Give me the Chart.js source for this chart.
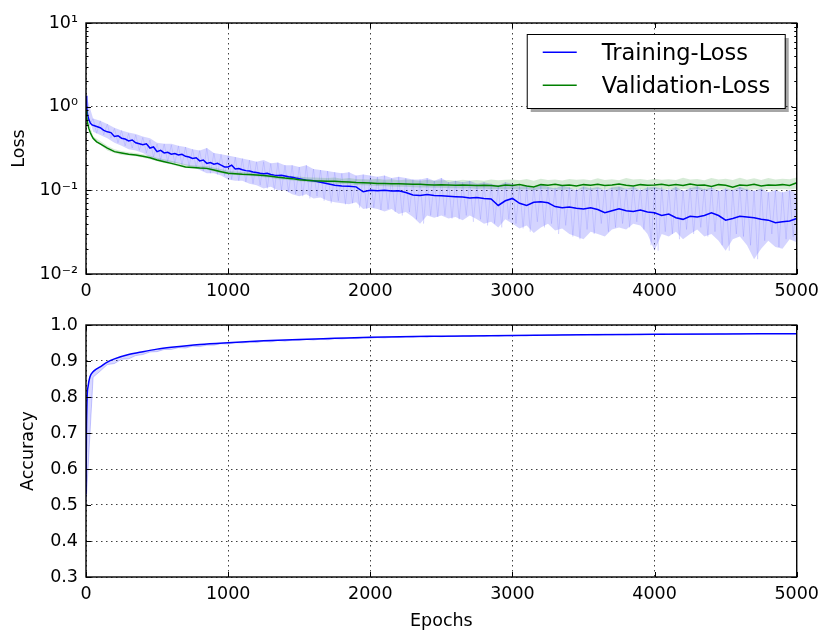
<!DOCTYPE html>
<html><head><meta charset="utf-8">
<script src="https://cdn.jsdelivr.net/npm/chart.js@4.4.1/dist/chart.umd.min.js"></script>
<style>
html,body{margin:0;padding:0;background:#fff;}
#wrap{position:relative;width:826px;height:632px;overflow:hidden;background:#fff;}
#c1{position:absolute;left:0;top:0;}
#c2{position:absolute;left:0;top:300px;}
</style></head><body>
<div id="wrap"><canvas id="c1" width="826" height="300"></canvas><canvas id="c2" width="826" height="332"></canvas></div>
<script>
// ---------- tick labels ----------
const epochTicks = [0, 1000, 2000, 3000, 4000, 5000];
const epochTickLabels = ['0', '1000', '2000', '3000', '4000', '5000'];
const lossTicks = [0.01, 0.1, 1, 10];
const lossTickLabels = ['10\u207B\u00B2', '10\u207B\u00B9', '10\u2070', '10\u00B9'];
const accTicks = [0.3, 0.4, 0.5, 0.6, 0.7, 0.8, 0.9, 1.0];
const accTickLabels = ['0.3', '0.4', '0.5', '0.6', '0.7', '0.8', '0.9', '1.0'];

function steps(a, b, s) { const r = []; for (let v = a; v <= b; v += s) r.push(v); return r; }

// ---------- epochs (x categories) ----------
const trainSmoothEpochs = [0, 5, 10, 20, 30, 40, 50, 75].concat(steps(100, 1500, 25)).concat(steps(1550, 5000, 50));
const valSmoothEpochs = [0, 5, 10, 20, 30, 40, 50, 75, 100].concat(steps(150, 5000, 50));
const rawTrainEpochs = steps(0, 5000, 25);
const bandEpochs = steps(0, 5000, 50);
const accEpochs = [0, 3, 8, 15, 28, 50, 75, 100, 150, 200, 300, 400, 500, 600, 800, 1000, 1250, 1500, 1750, 2000, 2500, 3000, 3500, 4000, 4500, 5000];

// ---------- series values ----------
const trainSmooth = [1.35, 1.0, 0.82, 0.7, 0.64, 0.61, 0.6, 0.58,
  0.56, 0.52, 0.5, 0.49, 0.44, 0.45, 0.42, 0.41, 0.39, 0.4,
  0.37, 0.36, 0.35, 0.36, 0.32, 0.33, 0.29, 0.3, 0.28, 0.285,
  0.27, 0.275, 0.265, 0.27, 0.255, 0.25, 0.24, 0.245, 0.225, 0.23,
  0.21, 0.215, 0.205, 0.21, 0.2, 0.19, 0.19, 0.2, 0.18, 0.182,
  0.176, 0.172, 0.17, 0.166, 0.163, 0.16, 0.158, 0.16, 0.155, 0.152,
  0.15, 0.151, 0.148, 0.145, 0.143, 0.14, 0.138,
  0.132, 0.13,
  0.125, 0.12, 0.115, 0.113, 0.112, 0.11, 0.096, 0.1, 0.099, 0.1,
  0.098, 0.099, 0.094, 0.088, 0.087, 0.089, 0.087, 0.086, 0.085, 0.084,
  0.083, 0.081, 0.082, 0.08, 0.079, 0.066, 0.075, 0.08, 0.07, 0.066,
  0.072, 0.073, 0.071, 0.064, 0.062, 0.063, 0.061, 0.06, 0.062, 0.059,
  0.054, 0.057, 0.06, 0.057, 0.056, 0.058, 0.055, 0.054, 0.05, 0.052,
  0.047, 0.045, 0.049, 0.048, 0.05, 0.054, 0.05, 0.044, 0.046, 0.049,
  0.048, 0.047, 0.045, 0.044, 0.041, 0.042, 0.043, 0.046];

const valSmooth = [0.9, 0.75, 0.65, 0.55, 0.49, 0.45, 0.42, 0.38, 0.36,
  0.32, 0.29, 0.28, 0.27, 0.265, 0.255, 0.245, 0.23, 0.22, 0.21,
  0.2, 0.19, 0.188, 0.185, 0.183, 0.175, 0.167, 0.16, 0.158, 0.156,
  0.155, 0.153, 0.15, 0.147, 0.143, 0.14, 0.138, 0.134, 0.132, 0.13,
  0.129, 0.128, 0.128, 0.127, 0.126, 0.124, 0.123, 0.122, 0.121, 0.121,
  0.12, 0.12, 0.119, 0.118, 0.118, 0.117, 0.116, 0.117, 0.116, 0.115,
  0.116, 0.115, 0.114, 0.115, 0.114, 0.112, 0.116, 0.114, 0.117, 0.113,
  0.11, 0.117, 0.115, 0.118, 0.114, 0.116, 0.113, 0.117, 0.115, 0.118,
  0.114, 0.116, 0.119, 0.115, 0.113, 0.117, 0.115, 0.116, 0.118, 0.114,
  0.117, 0.114, 0.119, 0.115, 0.116, 0.111, 0.117, 0.115, 0.109, 0.116,
  0.114, 0.118, 0.113, 0.116, 0.115, 0.117, 0.114, 0.123];

// raw training loss (every 25 epochs)
const trainRaw = [1.4, 0.6, 0.72, 0.48, 0.68, 0.46, 0.62, 0.42, 0.55, 0.37,
  0.52, 0.34, 0.48, 0.32, 0.46, 0.3, 0.43, 0.28, 0.4, 0.25,
  0.36, 0.23, 0.36, 0.22, 0.35, 0.21, 0.34, 0.2, 0.33, 0.195,
  0.31, 0.185, 0.3, 0.17, 0.32, 0.16, 0.28, 0.155, 0.27, 0.15,
  0.26, 0.135, 0.25, 0.13, 0.24, 0.125, 0.23, 0.12, 0.22, 0.115,
  0.22, 0.105, 0.21, 0.1, 0.215, 0.1, 0.2, 0.095, 0.2, 0.09,
  0.19, 0.085, 0.2, 0.08, 0.18, 0.085, 0.175, 0.075, 0.17, 0.07,
  0.165, 0.075, 0.16, 0.068, 0.165, 0.07, 0.15, 0.062, 0.155, 0.06,
  0.15, 0.062, 0.145, 0.058, 0.15, 0.06, 0.14, 0.055, 0.145, 0.05,
  0.14, 0.055, 0.135, 0.045, 0.135, 0.04, 0.14, 0.05, 0.13, 0.048,
  0.14, 0.05, 0.125, 0.046, 0.13, 0.045, 0.125, 0.05, 0.13, 0.042,
  0.12, 0.045, 0.125, 0.038, 0.12, 0.04, 0.115, 0.036, 0.125, 0.045,
  0.12, 0.04, 0.115, 0.035, 0.11, 0.032, 0.112, 0.042, 0.115, 0.036,
  0.11, 0.04, 0.108, 0.03, 0.115, 0.038, 0.11, 0.028, 0.105, 0.026,
  0.11, 0.034, 0.11, 0.03, 0.105, 0.04, 0.11, 0.032, 0.108, 0.036,
  0.11, 0.04, 0.105, 0.036, 0.11, 0.042, 0.105, 0.034, 0.11, 0.022,
  0.108, 0.019, 0.11, 0.032, 0.105, 0.03, 0.11, 0.026, 0.1, 0.034,
  0.108, 0.03, 0.112, 0.036, 0.105, 0.028, 0.11, 0.032, 0.1, 0.022,
  0.105, 0.019, 0.1, 0.03, 0.11, 0.028, 0.105, 0.022, 0.1, 0.015,
  0.105, 0.025, 0.095, 0.03, 0.1, 0.021, 0.095, 0.026, 0.1, 0.028,
  0.09];

// upper / lower edge of the raw training-loss band (every 50 epochs)
const trainBandHi = [1.4, 0.72, 0.68, 0.62, 0.56, 0.52, 0.49, 0.47, 0.44, 0.42,
  0.37, 0.36, 0.36, 0.34, 0.33, 0.31, 0.3, 0.32, 0.28, 0.27,
  0.26, 0.25, 0.24, 0.23, 0.22, 0.23, 0.21, 0.215, 0.2, 0.2,
  0.19, 0.2, 0.18, 0.175, 0.17, 0.165, 0.16, 0.165, 0.15, 0.155,
  0.15, 0.145, 0.15, 0.14, 0.145, 0.14, 0.135, 0.135, 0.14, 0.13,
  0.14, 0.125, 0.13, 0.125, 0.13, 0.12, 0.125, 0.12, 0.115, 0.125,
  0.12, 0.11, 0.115, 0.105, 0.118, 0.11, 0.105, 0.115, 0.108, 0.1,
  0.112, 0.105, 0.11, 0.1, 0.108, 0.112, 0.104, 0.11, 0.1, 0.108,
  0.11, 0.105, 0.1, 0.11, 0.098, 0.106, 0.112, 0.102, 0.108, 0.098,
  0.105, 0.1, 0.11, 0.102, 0.098, 0.105, 0.095, 0.1, 0.094, 0.1,
  0.092];
const trainBandLo = [1.0, 0.5, 0.46, 0.42, 0.37, 0.34, 0.31, 0.3, 0.28, 0.25,
  0.23, 0.22, 0.215, 0.21, 0.2, 0.19, 0.175, 0.16, 0.16, 0.15,
  0.135, 0.13, 0.13, 0.12, 0.115, 0.105, 0.11, 0.1, 0.1, 0.09,
  0.085, 0.09, 0.08, 0.082, 0.075, 0.072, 0.07, 0.068, 0.072, 0.06,
  0.062, 0.06, 0.056, 0.06, 0.052, 0.055, 0.048, 0.04, 0.05, 0.047,
  0.05, 0.046, 0.048, 0.044, 0.05, 0.045, 0.04, 0.042, 0.036, 0.045,
  0.04, 0.035, 0.038, 0.031, 0.036, 0.04, 0.033, 0.035, 0.03, 0.028,
  0.026, 0.032, 0.03, 0.028, 0.034, 0.036, 0.034, 0.04, 0.038, 0.03,
  0.019, 0.03, 0.028, 0.032, 0.026, 0.03, 0.034, 0.028, 0.03, 0.025,
  0.019, 0.026, 0.028, 0.022, 0.015, 0.02, 0.025, 0.021, 0.02, 0.026,
  0.024];

// upper / lower edge of the raw validation-loss band (every 50 epochs)
const valBandHi = [0.9, 0.44, 0.39, 0.34, 0.31, 0.295, 0.285, 0.28, 0.27, 0.26,
  0.245, 0.235, 0.225, 0.215, 0.205, 0.2, 0.197, 0.195, 0.188, 0.18,
  0.172, 0.168, 0.166, 0.165, 0.163, 0.16, 0.157, 0.153, 0.15, 0.148,
  0.146, 0.143, 0.142, 0.141, 0.14, 0.142, 0.138, 0.14, 0.137, 0.136,
  0.135, 0.138, 0.134, 0.136, 0.132, 0.135, 0.133, 0.13, 0.134, 0.13,
  0.132, 0.133, 0.13, 0.134, 0.131, 0.133, 0.13, 0.135, 0.132, 0.134,
  0.135, 0.132, 0.137, 0.13, 0.138, 0.133, 0.135, 0.131, 0.137, 0.134,
  0.136, 0.132, 0.139, 0.133, 0.136, 0.132, 0.14, 0.135, 0.137, 0.133,
  0.138, 0.134, 0.136, 0.133, 0.141, 0.135, 0.137, 0.132, 0.14, 0.135,
  0.138, 0.133, 0.141, 0.134, 0.139, 0.133, 0.14, 0.135, 0.138, 0.136,
  0.142];
const valBandLo = [0.85, 0.4, 0.35, 0.3, 0.28, 0.265, 0.26, 0.255, 0.245, 0.235,
  0.222, 0.212, 0.203, 0.193, 0.185, 0.182, 0.18, 0.176, 0.168, 0.16,
  0.155, 0.152, 0.15, 0.148, 0.146, 0.143, 0.14, 0.136, 0.134, 0.131,
  0.128, 0.126, 0.124, 0.122, 0.121, 0.12, 0.119, 0.118, 0.116, 0.115,
  0.114, 0.113, 0.112, 0.111, 0.11, 0.11, 0.109, 0.108, 0.108, 0.107,
  0.107, 0.106, 0.106, 0.105, 0.106, 0.104, 0.105, 0.103, 0.104, 0.103,
  0.104, 0.102, 0.103, 0.1, 0.104, 0.102, 0.103, 0.101, 0.104, 0.102,
  0.103, 0.101, 0.104, 0.102, 0.103, 0.1, 0.104, 0.102, 0.103, 0.101,
  0.104, 0.102, 0.103, 0.101, 0.104, 0.102, 0.103, 0.1, 0.104, 0.102,
  0.103, 0.101, 0.104, 0.1, 0.103, 0.101, 0.104, 0.102, 0.103, 0.102,
  0.105];

const accSmooth = [0.53, 0.7, 0.8, 0.83, 0.856, 0.87, 0.878, 0.884, 0.897, 0.906,
  0.918, 0.926, 0.933, 0.938, 0.946, 0.951, 0.956, 0.96, 0.963, 0.966,
  0.969, 0.971, 0.973, 0.974, 0.975, 0.976];

// raw accuracy (every 50 epochs)
const accRaw = [0.5, 0.855, 0.872, 0.89, 0.893, 0.905, 0.906, 0.915, 0.918, 0.925,
  0.926, 0.932, 0.932, 0.937, 0.936, 0.941, 0.94, 0.944, 0.944, 0.948,
  0.947, 0.951, 0.95, 0.953, 0.951, 0.955, 0.953, 0.957, 0.955, 0.958,
  0.957, 0.96, 0.958, 0.961, 0.959, 0.962, 0.961, 0.963, 0.962, 0.964,
  0.963, 0.965, 0.964, 0.966, 0.965, 0.967, 0.966, 0.968, 0.966, 0.968,
  0.967, 0.969, 0.968, 0.97, 0.968, 0.97, 0.969, 0.971, 0.969, 0.971,
  0.97, 0.971, 0.97, 0.972, 0.971, 0.972, 0.971, 0.973, 0.972, 0.973,
  0.972, 0.973, 0.972, 0.974, 0.973, 0.974, 0.973, 0.974, 0.973, 0.974,
  0.974, 0.975, 0.974, 0.975, 0.974, 0.975, 0.975, 0.975, 0.975, 0.976,
  0.975, 0.976, 0.975, 0.976, 0.976, 0.976, 0.976, 0.976, 0.976, 0.976,
  0.976];

const legendLabels = ['Training-Loss', 'Validation-Loss'];

// ---------- helpers ----------
function pts(xs, ys) { return ys.map((y, i) => ({ x: xs[i], y: y })); }

Chart.defaults.font.family = "'DejaVu Sans', sans-serif";
Chart.defaults.color = '#000';
const FS = 17.5;
const gridColor = 'rgba(0,0,0,0.75)';

const lossMinor = [];
[0.01, 0.1, 1].forEach(d => { for (let m = 2; m <= 9; m++) lossMinor.push(m * d); });

function makeFrame(yMajor, yMinor) {
  return {
    id: 'frame',
    afterDatasetsDraw(chart) {
      const { ctx, chartArea: a, scales } = chart;
      ctx.save();
      ctx.strokeStyle = '#000';
      ctx.lineWidth = 1;
      const seg = (x1, y1, x2, y2) => { ctx.beginPath(); ctx.moveTo(x1, y1); ctx.lineTo(x2, y2); ctx.stroke(); };
      epochTicks.forEach(v => {
        const px = Math.round(scales.x.getPixelForValue(v)) + 0.5;
        seg(px, a.bottom, px, a.bottom - 5);
        seg(px, a.top, px, a.top + 5);
      });
      yMajor.forEach(v => {
        const py = Math.round(scales.y.getPixelForValue(v)) + 0.5;
        seg(a.left, py, a.left + 5, py);
        seg(a.right, py, a.right - 5, py);
      });
      yMinor.forEach(v => {
        const py = Math.round(scales.y.getPixelForValue(v)) + 0.5;
        seg(a.left, py, a.left + 2.5, py);
        seg(a.right, py, a.right - 2.5, py);
      });
      ctx.lineWidth = 1.4;
      ctx.strokeRect(a.left, a.top, a.right - a.left, a.bottom - a.top);
      ctx.restore();
    }
  };
}

const legendPlugin = {
  id: 'boxLegend',
  afterDraw(chart) {
    const { ctx, chartArea: a } = chart;
    const W = 258, H = 74;
    const L = a.right - 12 - W, T = a.top + 11;
    ctx.save();
    ctx.fillStyle = 'rgba(0,0,0,0.35)';
    ctx.fillRect(L + 4, T + 4, W, H);
    ctx.fillStyle = '#fff';
    ctx.fillRect(L, T, W, H);
    ctx.strokeStyle = '#000';
    ctx.lineWidth = 1;
    ctx.strokeRect(L + 0.5, T + 0.5, W, H);
    const cols = ['#0000ff', '#008000'];
    ctx.font = "22.5px 'DejaVu Sans'";
    ctx.textBaseline = 'alphabetic';
    ctx.textAlign = 'left';
    legendLabels.forEach((t, i) => {
      const base = T + 26.3 + i * 33;
      ctx.strokeStyle = cols[i];
      ctx.lineWidth = 1.5;
      ctx.beginPath(); ctx.moveTo(L + 16, base - 8); ctx.lineTo(L + 50, base - 8); ctx.stroke();
      ctx.fillStyle = '#000';
      ctx.fillText(t, L + 75, base);
    });
    ctx.restore();
  }
};

function xScale(h, withTitle) {
  return {
    type: 'linear', min: 0, max: 5000,
    afterBuildTicks: s => { s.ticks = epochTicks.map(v => ({ value: v })); },
    ticks: { autoSkip: false, maxRotation: 0, minRotation: 0, padding: 7, color: '#000', font: { size: FS },
      callback: (v, i) => epochTickLabels[i] },
    grid: { color: gridColor, lineWidth: 1, drawTicks: false },
    border: { display: false, dash: [1.5, 3.5] },
    title: withTitle ? { display: true, text: 'Epochs', color: '#000', font: { size: FS }, padding: { top: 0, bottom: 0 } } : { display: false },
    afterFit: s => { s.height = h; }
  };
}

const noLine = { pointRadius: 0, borderColor: 'transparent', borderWidth: 1 };

// ---------- top chart: loss ----------
new Chart(document.getElementById('c1'), {
  type: 'line',
  data: {
    datasets: [
      { label: 'Training-Loss', data: pts(trainSmoothEpochs, trainSmooth), borderColor: '#0000ff', borderWidth: 1.5, pointRadius: 0, order: 1 },
      { label: 'Validation-Loss', data: pts(valSmoothEpochs, valSmooth), borderColor: '#008000', borderWidth: 1.5, pointRadius: 0, order: 0 },
      Object.assign({ label: 'Training-Loss raw max', data: pts(bandEpochs, trainBandHi), fill: '+1', backgroundColor: 'rgba(0,0,255,0.17)', order: 6 }, noLine),
      Object.assign({ label: 'Training-Loss raw min', data: pts(bandEpochs, trainBandLo), fill: false, order: 6 }, noLine),
      { label: 'Training-Loss raw', data: pts(rawTrainEpochs, trainRaw), borderColor: 'rgba(0,0,255,0.1)', borderWidth: 1, pointRadius: 0, order: 5 },
      Object.assign({ label: 'Validation-Loss raw max', data: pts(bandEpochs, valBandHi), fill: '+1', backgroundColor: 'rgba(0,128,0,0.16)', order: 3 }, noLine),
      Object.assign({ label: 'Validation-Loss raw min', data: pts(bandEpochs, valBandLo), fill: false, order: 3 }, noLine)
    ]
  },
  options: {
    responsive: false, animation: false, devicePixelRatio: 1,
    layout: { padding: { top: 23, right: 25, bottom: 0, left: 0 } },
    plugins: { legend: { display: false }, tooltip: { enabled: false } },
    scales: {
      x: xScale(26, false),
      y: {
        type: 'logarithmic', min: 0.01, max: 10,
        afterBuildTicks: s => { s.ticks = lossTicks.map(v => ({ value: v })); },
        ticks: { autoSkip: false, padding: 8, color: '#000', font: { size: FS }, callback: (v, i) => lossTickLabels[i] },
        grid: { color: gridColor, lineWidth: 1, drawTicks: false },
        border: { display: false, dash: [1.5, 3.5] },
        title: { display: true, text: 'Loss', color: '#000', font: { size: FS }, padding: { top: 9, bottom: 0 } },
        afterFit: s => { s.width = 86; }
      }
    }
  },
  plugins: [makeFrame(lossTicks, lossMinor), legendPlugin]
});

// ---------- bottom chart: accuracy ----------
new Chart(document.getElementById('c2'), {
  type: 'line',
  data: {
    datasets: [
      { label: 'Accuracy', data: pts(accEpochs, accSmooth), borderColor: '#0000ff', borderWidth: 1.5, pointRadius: 0, cubicInterpolationMode: 'monotone', order: 0 },
      { label: 'Accuracy raw', data: pts(bandEpochs, accRaw), borderColor: 'rgba(0,0,255,0.2)', borderWidth: 1, pointRadius: 0,
        fill: 0, backgroundColor: 'rgba(0,0,255,0.15)', order: 1 }
    ]
  },
  options: {
    responsive: false, animation: false, devicePixelRatio: 1,
    layout: { padding: { top: 25, right: 25, bottom: 0, left: 0 } },
    plugins: { legend: { display: false }, tooltip: { enabled: false } },
    scales: {
      x: xScale(55, true),
      y: {
        type: 'linear', min: 0.3, max: 1.0,
        afterBuildTicks: s => { s.ticks = accTicks.map(v => ({ value: v })); },
        ticks: { autoSkip: false, padding: 8, color: '#000', font: { size: FS }, callback: (v, i) => accTickLabels[i] },
        grid: { color: gridColor, lineWidth: 1, drawTicks: false },
        border: { display: false, dash: [1.5, 3.5] },
        title: { display: true, text: 'Accuracy', color: '#000', font: { size: FS }, padding: { top: 18, bottom: 0 } },
        afterFit: s => { s.width = 86; }
      }
    }
  },
  plugins: [makeFrame(accTicks, [])]
});
</script>
</body></html>
